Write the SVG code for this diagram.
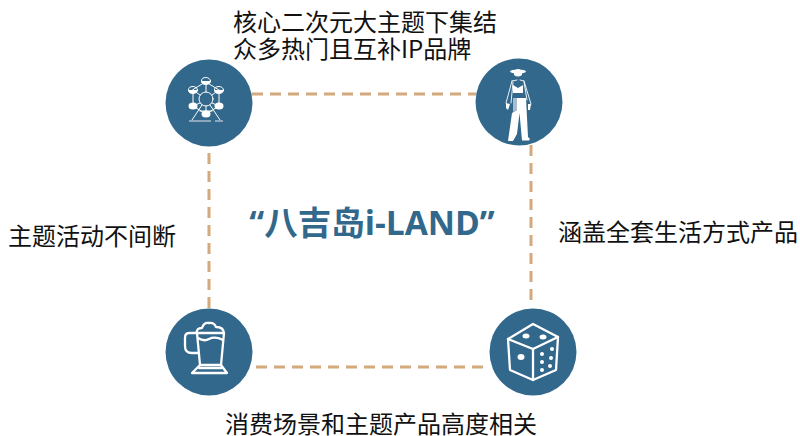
<svg xmlns="http://www.w3.org/2000/svg" width="800" height="436" viewBox="0 0 800 436">
<style>
.c{fill:#32688C}
.d{stroke:#D2AA7D;stroke-width:3;stroke-dasharray:11 7;fill:none}
.t{font-family:"Noto Sans CJK SC","Noto Sans",sans-serif;font-size:24px;fill:#111}
.w{fill:none;stroke:#fff;stroke-linecap:round;stroke-linejoin:round}
.f{fill:#fff}
</style>
<rect width="800" height="436" fill="#fff"/>
<g id="connectors">
<path class="d" d="M252 94H476"/>
<path class="d" d="M531 145V306"/>
<path class="d" d="M209 153V308"/>
<path class="d" d="M256 367H490"/>
</g>
<g id="node-wheel">
<circle class="c" cx="209" cy="103" r="43.5"/>
<g class="w" stroke-width="1">
<path d="M206 82L219 90V106L206 114L193 106V90Z"/>
<circle cx="206" cy="99" r="7"/>
<path d="M206 82V92M206 106V114M193 90L200 95M212 103L219 106M193 106L200 103M212 95L219 90"/>
<path d="M202 105L192 120M210 105L220 120M200 111H212"/>
</g>
<g class="w" stroke-width="1">
<ellipse cx="206" cy="81" rx="4.5" ry="3.5"/><ellipse cx="193" cy="90" rx="4.5" ry="3.5"/><ellipse cx="219" cy="90" rx="4.5" ry="3.5"/>
</g>
<g class="f">
<path d="M201.500 81H210.500A4.500 3.500 0 0 1 201.500 81Z"/><path d="M188.500 90H197.500A4.500 3.500 0 0 1 188.500 90Z"/><path d="M214.500 90H223.500A4.500 3.500 0 0 1 214.500 90Z"/>
<ellipse cx="193" cy="106" rx="4.5" ry="3.5"/><ellipse cx="219" cy="106" rx="4.5" ry="3.5"/><ellipse cx="206" cy="114" rx="4.500" ry="3.500"/>
</g>
<path d="M189 121H211M215 121H223" stroke="#A9BCCB" stroke-width="1.600" fill="none"/>
</g>
<g id="node-figure">
<circle class="c" cx="519" cy="102" r="43.500"/>
<g class="f">
<ellipse cx="518" cy="71.500" rx="8" ry="2"/>
<path d="M514 71Q518 67 522 71V75Q518 78 514 75Z"/>
<path d="M513 85L518 88L523 85V93H513Z"/>
<path d="M517 98H526L528 137L530 139L529 140.500H522L519.500 113L517 134L513 141H508L512 113L517 110Z"/>
<path d="M506 103L506 108L508 110L510 104ZM528 104L528 110L530 110L531 104Z"/>
</g>
<path class="w" stroke-width="0.900" d="M512 81L506 103M511 103L513 82M524 81L531 104M527 100L524 82M512 81L517 80M524 81L520 80"/>
<path d="M513 98L517 98V110L513 112Z" fill="#A9BCCB"/>
</g>
<g id="node-mug">
<circle class="c" cx="209" cy="352" r="43.500"/>
<g class="w" stroke-width="2.300">
<path d="M197 333Q196 328 202 328Q204 322 209 323Q214 322 216 327Q224 327 224 334"/>
<path d="M197 333H224L221 365H200Z"/>
<path d="M198 338Q204 342 209 339Q215 336 223 340"/>
<path d="M197 333H189Q185 333 185 338V346Q185 353 192 353H198"/>
<path d="M200 365L192 373H227L221 365"/>
<path d="M199 368H222"/>
</g>
</g>
<g id="node-dice">
<circle class="c" cx="533" cy="352" r="43.500"/>
<g class="w" stroke-width="2.300">
<path d="M533 324L508 339L533 349L558 337Z"/>
<path d="M508 339L510 370L533 380L556 370L558 337"/>
<path d="M533 349L533 380"/>
</g>
<g class="f">
<ellipse cx="526" cy="336" rx="3.500" ry="2.500"/><ellipse cx="543" cy="337" rx="3.500" ry="2.500"/>
<ellipse cx="521" cy="357" rx="3.500" ry="3"/>
<circle cx="542" cy="354" r="2"/><circle cx="552" cy="349" r="2"/><circle cx="542" cy="362" r="2"/><circle cx="551" cy="358" r="2"/><circle cx="542" cy="370" r="2"/><circle cx="550" cy="366" r="2"/>
</g>
</g>
<g id="labels">
<text class="t" x="233" y="31">核心二次元大主题下集结</text>
<text class="t" x="233" y="58">众多热门且互补IP品牌</text>
<text class="t" x="8" y="245">主题活动不间断</text>
<text class="t" x="558" y="241">涵盖全套生活方式产品</text>
<text class="t" x="225" y="433">消费场景和主题产品高度相关</text>
<text x="372" y="235" text-anchor="middle" font-family="'Open Sans','Noto Sans CJK SC',sans-serif" font-size="33.500" font-weight="700" fill="#32688C">“八吉岛i-LAND”</text>
</g>
</svg>
